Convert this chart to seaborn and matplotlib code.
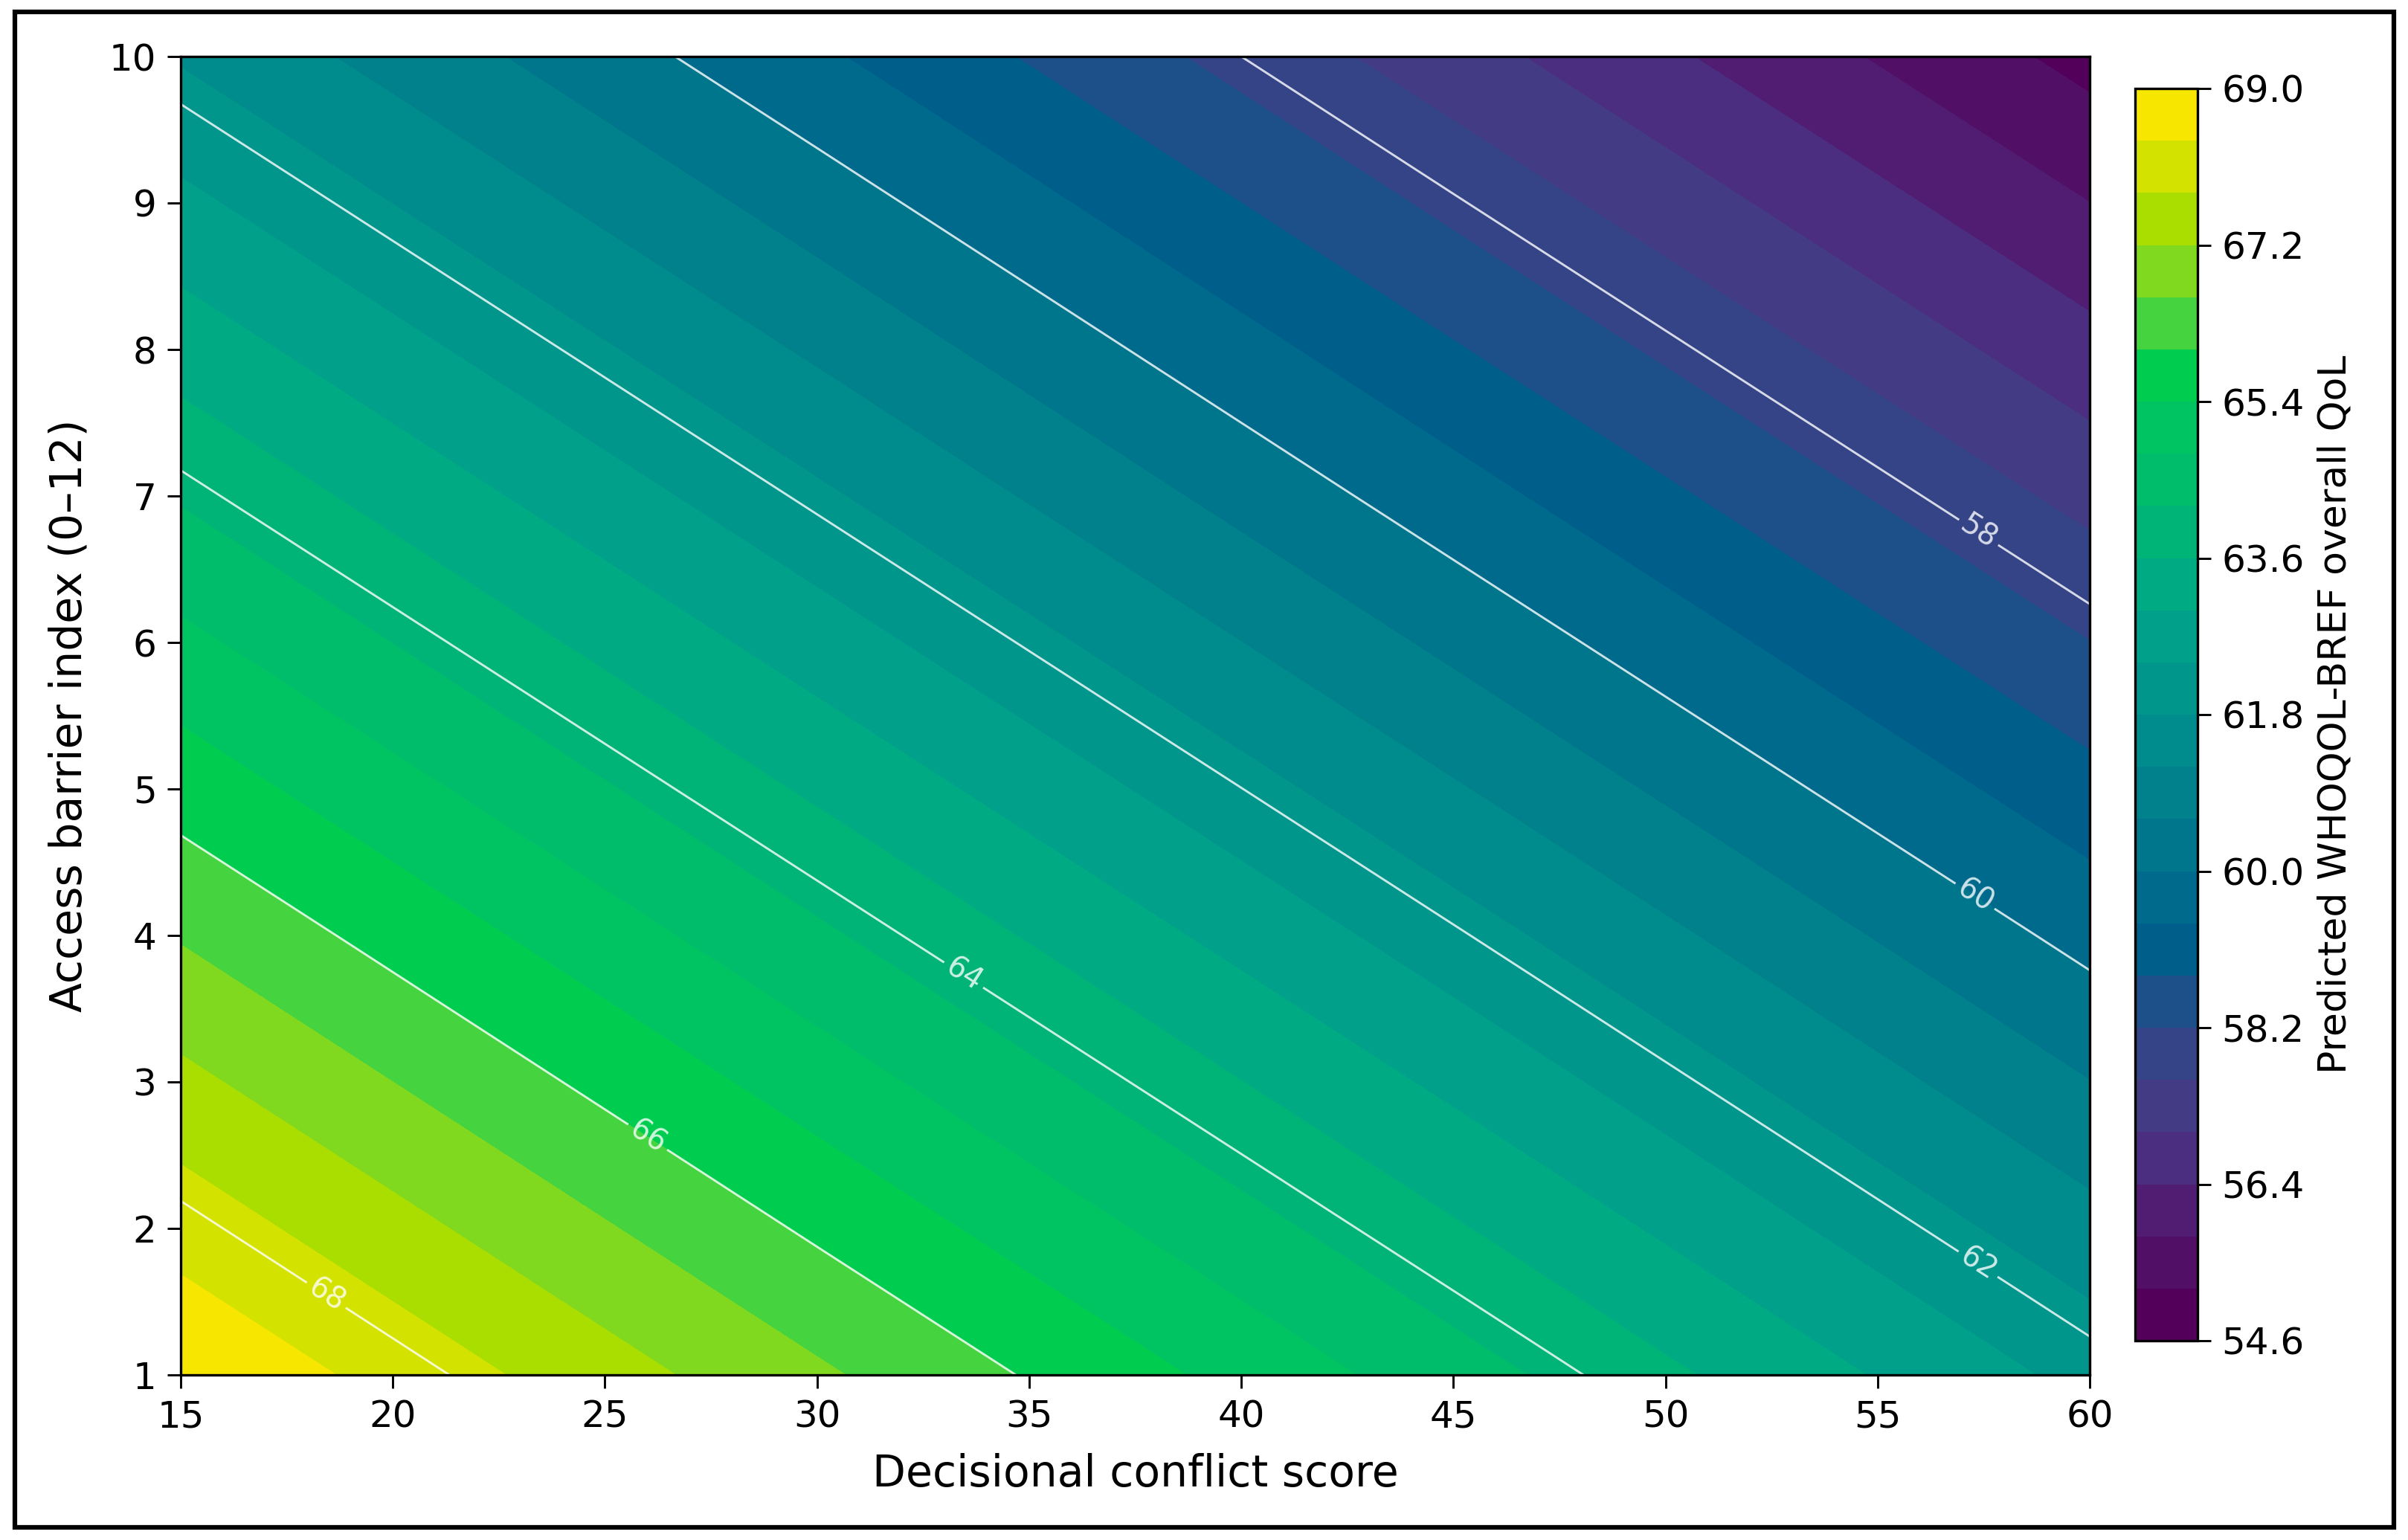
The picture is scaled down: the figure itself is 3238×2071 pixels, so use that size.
import numpy as np
import matplotlib
matplotlib.use("Agg")
import matplotlib.pyplot as plt
from matplotlib.patches import Rectangle
from matplotlib.colors import ListedColormap
import seaborn as sns

# ---- data (values of the predicted surface on a coarse grid) ----
conflict_scores = [15, 30, 45, 60]          # x: Decisional conflict score
barrier_index = [1, 4, 7, 10]               # y: Access barrier index
qol_barrier_1 = [68.95, 66.70, 64.46, 62.21]
qol_barrier_4 = [66.55, 64.30, 62.06, 59.81]
qol_barrier_7 = [64.14, 61.90, 59.65, 57.41]
qol_barrier_10 = [61.74, 59.50, 57.25, 55.00]

fill_levels = [54.6, 55.2, 55.8, 56.4, 57.0, 57.6, 58.2, 58.8, 59.4, 60.0, 60.6, 61.2,
               61.8, 62.4, 63.0, 63.6, 64.2, 64.8, 65.4, 66.0, 66.6, 67.2, 67.8, 68.4, 69.0]
line_levels = [58, 60, 62, 64, 66, 68]
cbar_ticks = [54.6, 56.4, 58.2, 60.0, 61.8, 63.6, 65.4, 67.2, 69.0]
x_ticks = [15, 20, 25, 30, 35, 40, 45, 50, 55, 60]
y_ticks = [1, 2, 3, 4, 5, 6, 7, 8, 9, 10]
label_spots = [(57.4, 6.76), (57.3, 4.27), (57.4, 1.77), (33.5, 3.75), (26.0, 2.62), (18.4, 1.53)]

# band colours (vivid viridis as rendered in the reference), low -> high
band_colors = ["#52005a", "#520f66", "#511d72", "#4b2e7f", "#433c85", "#354487",
               "#1d5089", "#005e8a", "#006a8c", "#00768c", "#00818c", "#008b8c",
               "#00968c", "#00a08a", "#00aa82", "#00b478", "#00bd6c", "#00c462",
               "#00cc4f", "#45d43f", "#80d91e", "#aadd00", "#d4e200", "#f7e600"]

# ---- style ----
sns.set_style("ticks")
plt.rcParams.update({
    "font.family": ["DejaVu Sans"],
    "axes.edgecolor": "black",
    "axes.linewidth": 0.8,
    "xtick.color": "black",
    "ytick.color": "black",
    "text.color": "black",
    "axes.labelcolor": "black",
    "xtick.major.size": 4.3,
    "ytick.major.size": 4.3,
    "xtick.major.width": 0.7,
    "ytick.major.width": 0.7,
    "xtick.labelsize": 12,
    "ytick.labelsize": 12,
})

W, H = 3238, 2071
DPI = 300
fig = plt.figure(figsize=(W / DPI, H / DPI), dpi=DPI)
fig.patch.set_facecolor("white")

ax = fig.add_axes([243 / W, 1 - 1849 / H, (2810 - 243) / W, (1849 - 76) / H])
cax = fig.add_axes([2871 / W, 1 - 1803 / H, (2955 - 2871) / W, (1803 - 119) / H])

X, Y = np.meshgrid(conflict_scores, barrier_index)
Z = np.array([qol_barrier_1, qol_barrier_4, qol_barrier_7, qol_barrier_10])

cmap = ListedColormap(sns.color_palette(band_colors, n_colors=len(band_colors)))
cf = ax.contourf(X, Y, Z, levels=fill_levels, cmap=cmap)
cl = ax.contour(X, Y, Z, levels=line_levels, colors="white", linewidths=0.7, alpha=0.8)
ax.clabel(cl, fmt="%d", fontsize=9.5, inline=True, inline_spacing=6, manual=label_spots)

ax.set_xlim(15, 60)
ax.set_ylim(1, 10)
ax.set_xticks(x_ticks)
ax.set_yticks(y_ticks)
ax.set_xlabel("Decisional conflict score", fontsize=14, labelpad=6)
ax.set_ylabel("Access barrier index (0–12)", fontsize=14, labelpad=6)
for s in ax.spines.values():
    s.set_visible(True)

cb = fig.colorbar(cf, cax=cax)
cb.set_ticks(cbar_ticks)
cb.set_ticklabels([f"{t:.1f}" for t in cbar_ticks])
cb.ax.tick_params(labelsize=12, length=4.3, width=0.7)
cb.set_label("Predicted WHOQOL-BREF overall QoL", fontsize=12.5)
cb.outline.set_edgecolor("black")
cb.outline.set_linewidth(0.8)

# outer frame
fig.add_artist(Rectangle((20 / W, 1 - 2054 / H), (3218.5 - 20) / W, (2054 - 16) / H,
                         transform=fig.transFigure, fill=False, edgecolor="black",
                         linewidth=1.5))

fig.savefig("out.png", dpi=DPI, facecolor="white")
